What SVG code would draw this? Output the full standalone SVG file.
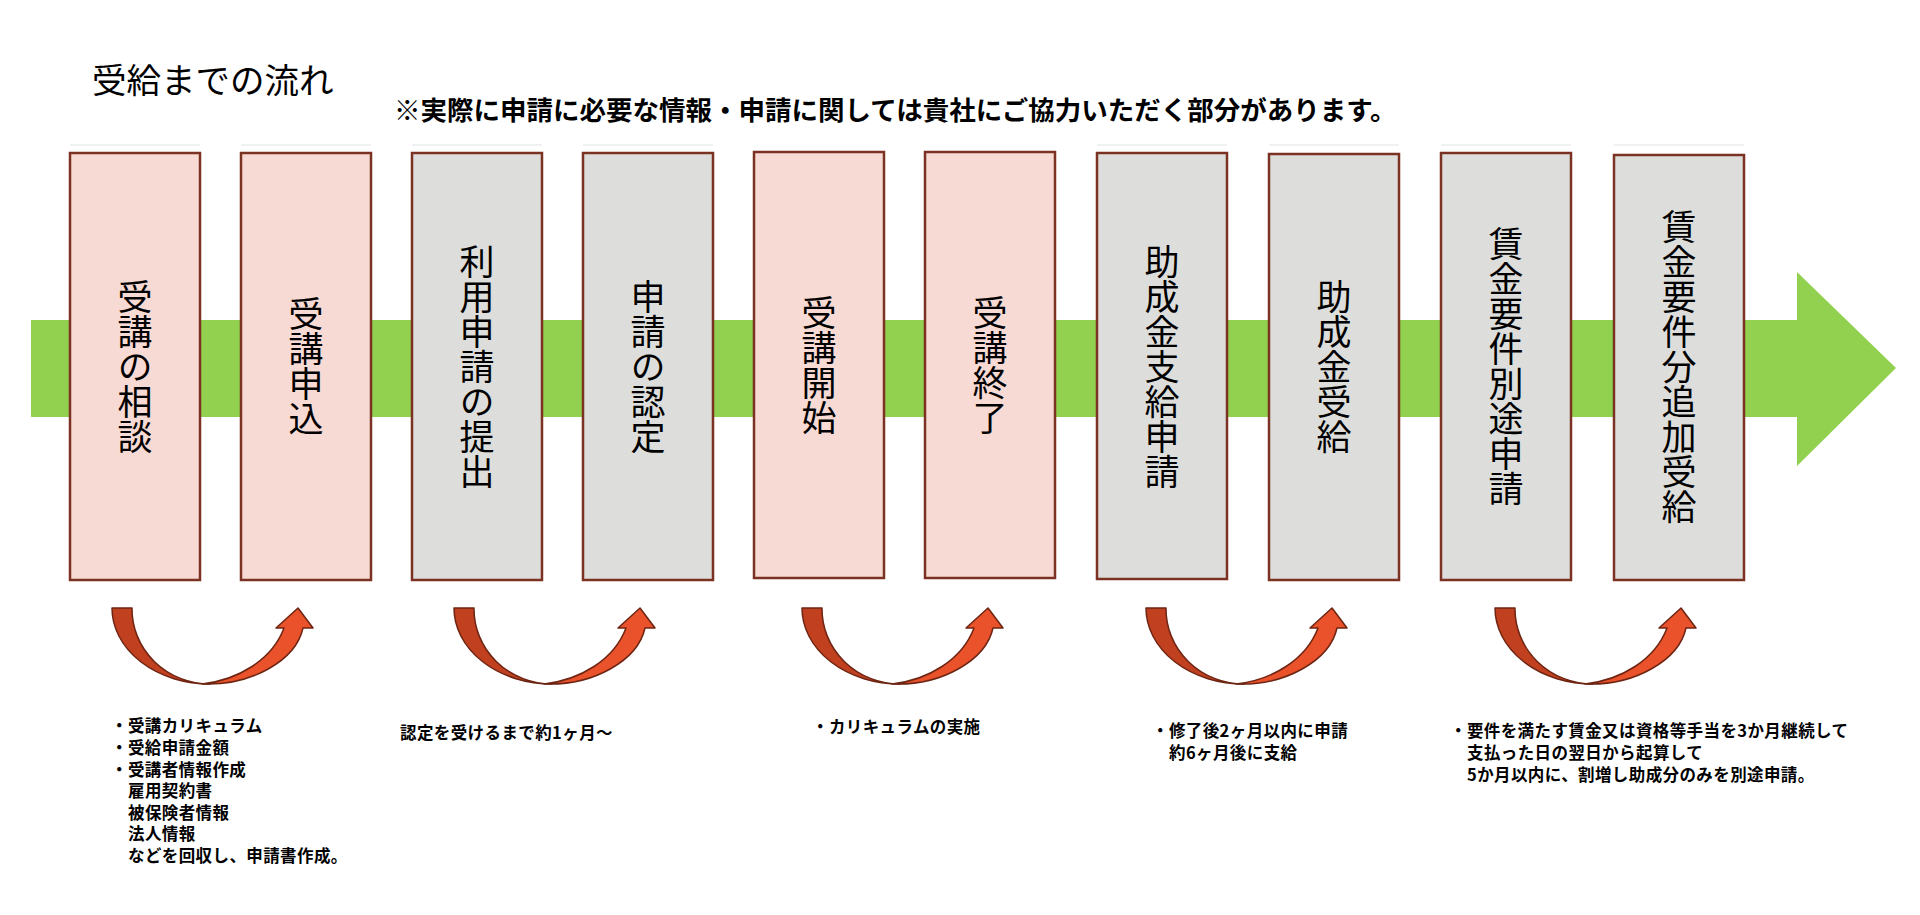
<svg xmlns="http://www.w3.org/2000/svg" xmlns:xlink="http://www.w3.org/1999/xlink" width="1920" height="915" viewBox="0 0 1920 915">
<style>
.pink{fill:#f8dad4;stroke:#7b3222;stroke-width:2.5}
.grey{fill:#dddedb;stroke:#7b3222;stroke-width:2.5}
.ref{stroke:#ececec;stroke-width:1.5}
.vt{font-family:"Noto Sans CJK JP","Noto Sans",sans-serif;font-size:35px;fill:#000;writing-mode:vertical-rl;text-anchor:middle}
.note{font-family:"Noto Sans CJK JP","Noto Sans",sans-serif;font-size:16.5px;letter-spacing:0.4px;font-weight:bold;fill:#000}
.title{font-family:"Noto Sans CJK JP","Noto Sans",sans-serif;font-size:34.5px;fill:#000}
.sub{font-family:"Noto Sans CJK JP","Noto Sans",sans-serif;font-size:26.5px;font-weight:bold;fill:#000}
.back{fill:#c0401f;stroke:#6e2412;stroke-width:1.5;stroke-linejoin:round}
.front{fill:#e9522a;stroke:#6e2412;stroke-width:1.5;stroke-linejoin:round}
</style>
<defs>
<g id="curv">
<path class="back" d="M0,0 A98,76 0 0 0 98,76 A78,75 0 0 1 20,0 Z"/>
<path class="front" d="M90,76 C140,78 184,52 191,20 L201,20 L186,0 L164,20 L172,20 C160,52 126,72 90,76 Z"/>
</g>
</defs>
<rect width="1920" height="915" fill="#fff"/>
<text class="title" x="92" y="93">受給までの流れ</text>
<text class="sub" x="394" y="120">※実際に申請に必要な情報・申請に関しては貴社にご協力いただく部分があります。</text>
<g id="flow-arrow">
<polygon points="31,320 1797,320 1797,272 1896,368 1797,466 1797,417 31,417" fill="#92d050"/>
</g>
<g id="node1"><line class="ref" x1="70" y1="145" x2="200" y2="145"/><rect class="pink" x="70" y="153" width="130" height="427"/><text class="vt" x="135" y="366.5">受講の相談</text></g>
<g id="node2"><line class="ref" x1="241" y1="145" x2="371" y2="145"/><rect class="pink" x="241" y="153" width="130" height="427"/><text class="vt" x="306" y="366.5">受講申込</text></g>
<g id="node3"><line class="ref" x1="412" y1="145" x2="542" y2="145"/><rect class="grey" x="412" y="153" width="130" height="427"/><text class="vt" x="477" y="366.5">利用申請の提出</text></g>
<g id="node4"><line class="ref" x1="583" y1="145" x2="713" y2="145"/><rect class="grey" x="583" y="153" width="130" height="427"/><text class="vt" x="648" y="366.5">申請の認定</text></g>
<g id="node5"><rect class="pink" x="754" y="152" width="130" height="426"/><text class="vt" x="819" y="365">受講開始</text></g>
<g id="node6"><rect class="pink" x="925" y="152" width="130" height="426"/><text class="vt" x="990" y="365">受講終了</text></g>
<g id="node7"><line class="ref" x1="1097" y1="145" x2="1227" y2="145"/><rect class="grey" x="1097" y="153" width="130" height="426"/><text class="vt" x="1162" y="366.5">助成金支給申請</text></g>
<g id="node8"><line class="ref" x1="1269" y1="145" x2="1399" y2="145"/><rect class="grey" x="1269" y="154" width="130" height="426"/><text class="vt" x="1334" y="367">助成金受給</text></g>
<g id="node9"><line class="ref" x1="1441" y1="145" x2="1571" y2="145"/><rect class="grey" x="1441" y="153" width="130" height="427"/><text class="vt" x="1506" y="366.5">賃金要件別途申請</text></g>
<g id="node10"><line class="ref" x1="1614" y1="145" x2="1744" y2="145"/><rect class="grey" x="1614" y="155" width="130" height="425"/><text class="vt" x="1679" y="367">賃金要件分追加受給</text></g>
<g id="connectors">
<use xlink:href="#curv" x="112" y="608"/>
<use xlink:href="#curv" x="454" y="608"/>
<use xlink:href="#curv" x="802" y="608"/>
<use xlink:href="#curv" x="1146" y="608"/>
<use xlink:href="#curv" x="1495" y="608"/>
</g>
<g id="notes">
<text class="note"><tspan x="111" y="732">・受講カリキュラム</tspan><tspan x="111" y="754">・受給申請金額</tspan><tspan x="111" y="775.5">・受講者情報作成</tspan><tspan x="128" y="797">雇用契約書</tspan><tspan x="128" y="818.5">被保険者情報</tspan><tspan x="128" y="840">法人情報</tspan><tspan x="128" y="862">などを回収し、申請書作成。</tspan></text>
<text class="note" x="400" y="739">認定を受けるまで約1ヶ月～</text>
<text class="note" x="812" y="733">・カリキュラムの実施</text>
<text class="note"><tspan x="1152" y="737">・修了後2ヶ月以内に申請</tspan><tspan x="1169" y="759">約6ヶ月後に支給</tspan></text>
<text class="note"><tspan x="1450" y="737">・要件を満たす賃金又は資格等手当を3か月継続して</tspan><tspan x="1467" y="758.5">支払った日の翌日から起算して</tspan><tspan x="1467" y="781">5か月以内に、割増し助成分のみを別途申請。</tspan></text>
</g>
</svg>
